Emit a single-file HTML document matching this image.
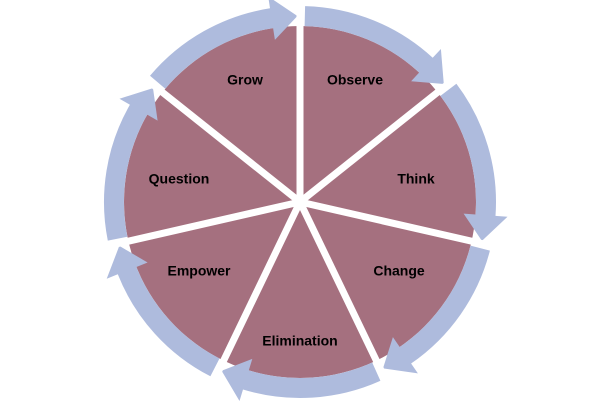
<!DOCTYPE html>
<html><head><meta charset="utf-8"><style>
html,body{margin:0;padding:0;background:#fff;width:600px;height:403px;overflow:hidden}
svg{display:block}
text{font-family:"Liberation Sans",sans-serif;font-weight:bold;font-size:14px;fill:#000;text-anchor:middle;dominant-baseline:middle}
</style></head><body>
<svg id="s" width="600" height="403" viewBox="0 0 600 403">
<circle cx="300" cy="202" r="176" fill="#A5707F"/>
<g id="ring"></g>
<g id="div"></g>
<text x="245" y="81">Grow</text>
<text x="355" y="81">Observe</text>
<text x="416" y="180">Think</text>
<text x="399" y="272">Change</text>
<text x="300" y="342">Elimination</text>
<text x="199" y="272">Empower</text>
<text x="179" y="180">Question</text>
</svg>
<script>
var cx=300,cy=202,NS="http://www.w3.org/2000/svg";
function P(r,a){a=a*Math.PI/180;return [cx+r*Math.cos(a),cy+r*Math.sin(a)];}
function f(p){return p[0].toFixed(1)+" "+p[1].toFixed(1);}
var ring=document.getElementById("ring"),dv=document.getElementById("div");
for(var k=0;k<7;k++){
 var d=-90+k*360/7, dn=d+360/7;
 var a0=d+1.5, a1=dn-0.8, ah=a1-8;
 var ri=176, ro=196;
 var path="M"+f(P(ro,a0))+" A"+ro+" "+ro+" 0 0 1 "+f(P(ro,ah))+
 " L"+f(P(208,ah))+" L"+f(P(186,a1))+" L"+f(P(164,ah))+" L"+f(P(ri,ah))+
 " A"+ri+" "+ri+" 0 0 0 "+f(P(ri,a0))+" Z";
 var e=document.createElementNS(NS,"path");e.setAttribute("d",path);e.setAttribute("fill","#AEBBDD");ring.appendChild(e);
 var l=document.createElementNS(NS,"line");var p=P(205,d);
 l.setAttribute("x1",cx);l.setAttribute("y1",cy);l.setAttribute("x2",p[0]);l.setAttribute("y2",p[1]);
 l.setAttribute("stroke","#fff");l.setAttribute("stroke-width","7");dv.appendChild(l);
}
var c=document.createElementNS(NS,"circle");c.setAttribute("cx",cx);c.setAttribute("cy",cy);c.setAttribute("r","6");c.setAttribute("fill","#fff");dv.appendChild(c);
</script>
</body></html>
